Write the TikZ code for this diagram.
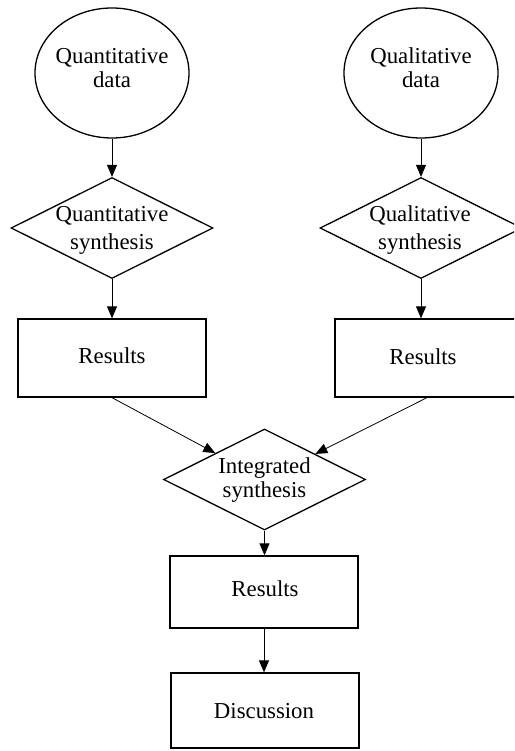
\documentclass[tikz,border=0pt]{standalone}
\usepackage{fontspec}
\setmainfont{Liberation Serif}
\usetikzlibrary{shapes.geometric,arrows.meta}
\begin{document}
\begin{tikzpicture}[x=1pt,y=-1pt,
  shapeline/.style={draw=black, line width=1.3pt},
  oval/.style={shapeline, ellipse, minimum width=154pt, minimum height=130pt, inner sep=0pt},
  dia/.style={shapeline, diamond, minimum width=202pt, minimum height=101pt, inner sep=0pt},
  box/.style={shapeline, rectangle, minimum width=188pt, minimum height=78pt, inner sep=0pt},
  lbl/.style={font=\fontsize{22.8}{24}\selectfont, inner sep=0pt, anchor=base},
  arr/.style={-{Triangle[width=10pt,length=12pt]}, line width=0.8pt},
]
\useasboundingbox (0,0) rectangle (514,751);
\clip (0,0) rectangle (514,751);

% shapes
\node[oval] (qd) at (112,73) {};
\node[oval] (ld) at (421,73) {};
\node[dia] (qs) at (112,228) {};
\node[dia] (ls) at (421,228) {};
\node[box] (r1) at (112,358) {};
\node[box] (r2) at (429,358) {};
\node[dia] (is) at (264.5,479.5) {};
\node[box, minimum height=72pt] (r3) at (264,592) {};
\node[box, minimum height=75pt] (dc) at (265,710.5) {};

% labels
\node[lbl] (qdt1) at (112,64) {Quantitative};
\node[lbl] (qdt2) at (112,88) {data};
\node[lbl] (ldt1) at (421,64) {Qualitative};
\node[lbl] (ldt2) at (421,88) {data};
\node[lbl] (qst1) at (112,222) {Quantitative};
\node[lbl] (qst2) at (112,249) {synthesis};
\node[lbl] (lst1) at (420,222) {Qualitative};
\node[lbl] (lst2) at (420,249) {synthesis};
\node[lbl] (r1t) at (112,363) {Results};
\node[lbl] (r2t) at (423,364) {Results};
\node[lbl] (ist1) at (264.5,473) {Integrated};
\node[lbl] (ist2) at (264.5,497) {synthesis};
\node[lbl] (r3t) at (265,596) {Results};
\node[lbl] (dct) at (264,718) {Discussion};

% connectors
\draw[arr] (qd.south) -- (qs.north);
\draw[arr] (ld.south) -- (ls.north);
\draw[arr] (qs.south) -- (r1.north);
\draw[arr] (ls.south) -- (ls.south |- r2.north);
\draw[arr] (r1.south) -- (is);
\draw[arr] ([xshift=-2pt]r2.south) -- (is);
\draw[arr] (is.south) -- (is.south |- r3.north);
\draw[arr] (r3.south) -- (r3.south |- dc.north);
\end{tikzpicture}
\end{document}
